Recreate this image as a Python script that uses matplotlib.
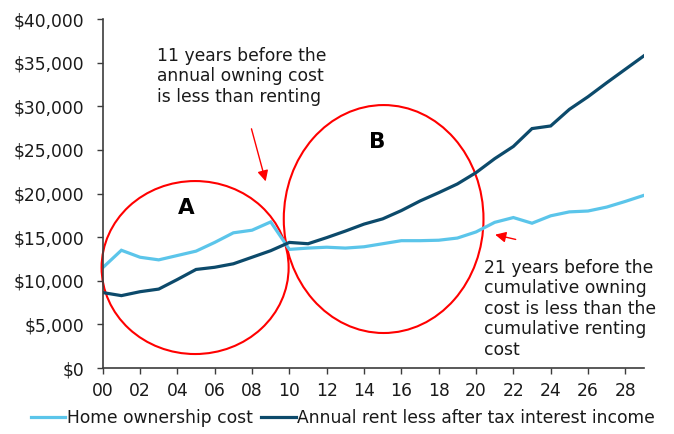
import numpy as np
import matplotlib
matplotlib.use("Agg")
import matplotlib.pyplot as plt
from matplotlib.patches import Ellipse

# data (year index 0..29)
years = list(range(30))
home_cost = [11500, 13500, 12700, 12400, 12900, 13400, 14400, 15500, 15800, 16750,
             13600, 13750, 13850, 13750, 13900, 14250, 14600, 14600, 14650, 14900,
             15600, 16700, 17250, 16600, 17450, 17900, 18000, 18450, 19100, 19800]
rent_cost = [8650, 8300, 8750, 9050, 10150, 11300, 11550, 11950, 12700, 13450,
             14400, 14250, 14950, 15700, 16500, 17100, 18050, 19150, 20100, 21100,
             22400, 24000, 25400, 27450, 27750, 29650, 31100, 32700, 34250, 35800]
xtick_pos = list(range(0, 29, 2))
xtick_labels = ["%02d" % v for v in xtick_pos]
yticks = list(range(0, 40001, 5000))

light = "#5bc5ea"
dark = "#0c4a6b"
axis_col = "#3c3c3c"
fs = 12.3

plt.rcParams["font.family"] = "DejaVu Sans"
fig = plt.figure(figsize=(6.74, 4.34), dpi=100)
ax = fig.add_axes([0.1524, 0.152, 0.9555 - 0.1524, 0.956 - 0.152])

ax.plot(years, home_cost, color=light, lw=2.3, label="Home ownership cost", solid_joinstyle="miter")
ax.plot(years, rent_cost, color=dark, lw=2.3, label="Annual rent less after tax interest income",
        solid_joinstyle="miter")

ax.set_xlim(0, 29)
ax.set_ylim(0, 40000)
ax.set_xticks(xtick_pos)
ax.set_xticklabels(xtick_labels)
ax.set_yticks(yticks)
ax.set_yticklabels(["${:,}".format(v) for v in yticks])
ax.tick_params(axis="both", direction="out", length=4, width=1, color=axis_col,
               labelsize=fs, labelcolor="#1a1a1a")
ax.tick_params(axis="x", pad=6)
ax.tick_params(axis="y", pad=9)
for s in ["top", "right"]:
    ax.spines[s].set_visible(False)
for s in ["left", "bottom"]:
    ax.spines[s].set_color(axis_col)
    ax.spines[s].set_linewidth(1.2)

# red circles
ax.add_patch(Ellipse((4.95, 11520), 10.02, 19830, fill=False, ec="red", lw=1.5, clip_on=False))
ax.add_patch(Ellipse((15.05, 17080), 10.7, 26130, fill=False, ec="red", lw=1.5, clip_on=False))
ax.text(4.46, 18340, "A", fontsize=15.5, fontweight="bold", ha="center", va="center")
ax.text(14.68, 25900, "B", fontsize=15.5, fontweight="bold", ha="center", va="center")

# notes
ax.text(2.89, 36800, "11 years before the\nannual owning cost\nis less than renting",
        fontsize=fs, ha="left", va="top", color="#1a1a1a", linespacing=1.17)
ax.text(20.45, 12500,
        "21 years before the\ncumulative owning\ncost is less than the\ncumulative renting\ncost",
        fontsize=fs, ha="left", va="top", color="#1a1a1a", linespacing=1.17)
ax.annotate("", xy=(8.77, 21090), xytext=(7.93, 27730),
            arrowprops=dict(arrowstyle="-|>", color="red", lw=1, mutation_scale=16))
ax.annotate("", xy=(20.88, 15360), xytext=(22.27, 14670),
            arrowprops=dict(arrowstyle="-|>", color="red", lw=1, mutation_scale=16))

fig.legend(loc="center", bbox_to_anchor=(0.509, 0.037), ncol=2, frameon=False,
           fontsize=fs, handlelength=2.0, handletextpad=0.1, columnspacing=0.5,
           labelcolor="#1a1a1a")

fig.savefig("out.png", dpi=100)
